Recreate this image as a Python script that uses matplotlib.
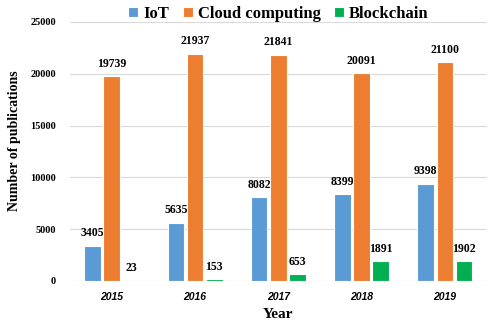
import matplotlib
matplotlib.use("Agg")
import matplotlib.pyplot as plt
import numpy as np

years = ["2015", "2016", "2017", "2018", "2019"]
iot = [3405, 5635, 8082, 8399, 9398]
cloud = [19739, 21937, 21841, 20091, 21100]
blockchain = [23, 153, 653, 1891, 1902]

series = [("IoT", iot, "#5B9BD5"),
          ("Cloud computing", cloud, "#ED7D31"),
          ("Blockchain", blockchain, "#00B050")]

serif = ["Liberation Serif", "DejaVu Serif"]

fig = plt.figure(figsize=(4.9, 3.27), dpi=100)
ax = fig.add_axes([0.143, 0.141, 0.85, 0.792])

x = np.arange(len(years))
step, width = 0.23, 0.2
for i, (name, vals, color) in enumerate(series):
    pos = x + (i - 1) * step
    bars = ax.bar(pos, vals, width, color=color, edgecolor="white",
                  linewidth=0.8, label=name, zorder=3)
    for b, v in zip(bars, vals):
        ax.text(b.get_x() + b.get_width() / 2, v + 600, str(v),
                ha="center", va="bottom", fontsize=8.5, fontweight="bold",
                family=serif)

ax.set_xlim(-0.5, 4.5)
ax.set_ylim(0, 25000)
ax.set_yticks(range(0, 25001, 5000))
ax.yaxis.grid(True, color="#d9d9d9", linewidth=0.8, zorder=0)
for s in ax.spines.values():
    s.set_visible(False)
ax.tick_params(length=0)
ax.axhline(0, color="#d9d9d9", linewidth=0.8, zorder=1)

ax.set_xticks(x)
ax.set_xticklabels(years, fontsize=7.5, fontweight="bold", style="italic",
                   family=["Liberation Sans", "DejaVu Sans"])
for lab in ax.get_yticklabels():
    lab.set_fontsize(7.5)
    lab.set_fontweight("bold")
    lab.set_family(serif)
ax.tick_params(axis="x", pad=8)
ax.tick_params(axis="y", pad=10)

ax.set_xlabel("Year", fontsize=11, fontweight="bold", family=serif, labelpad=4)
ax.set_ylabel("Number of publications", fontsize=10, fontweight="bold",
              family=serif, labelpad=8)
ax.yaxis.set_label_coords(-0.118, 0.54)

ax.legend(loc="lower center", bbox_to_anchor=(0.5, 0.975), ncol=3, frameon=False,
          prop={"family": serif, "weight": "bold", "size": 12},
          handlelength=0.6, handleheight=0.6, handletextpad=0.3,
          columnspacing=0.8, borderaxespad=0)

fig.savefig("out.png", dpi=100)
